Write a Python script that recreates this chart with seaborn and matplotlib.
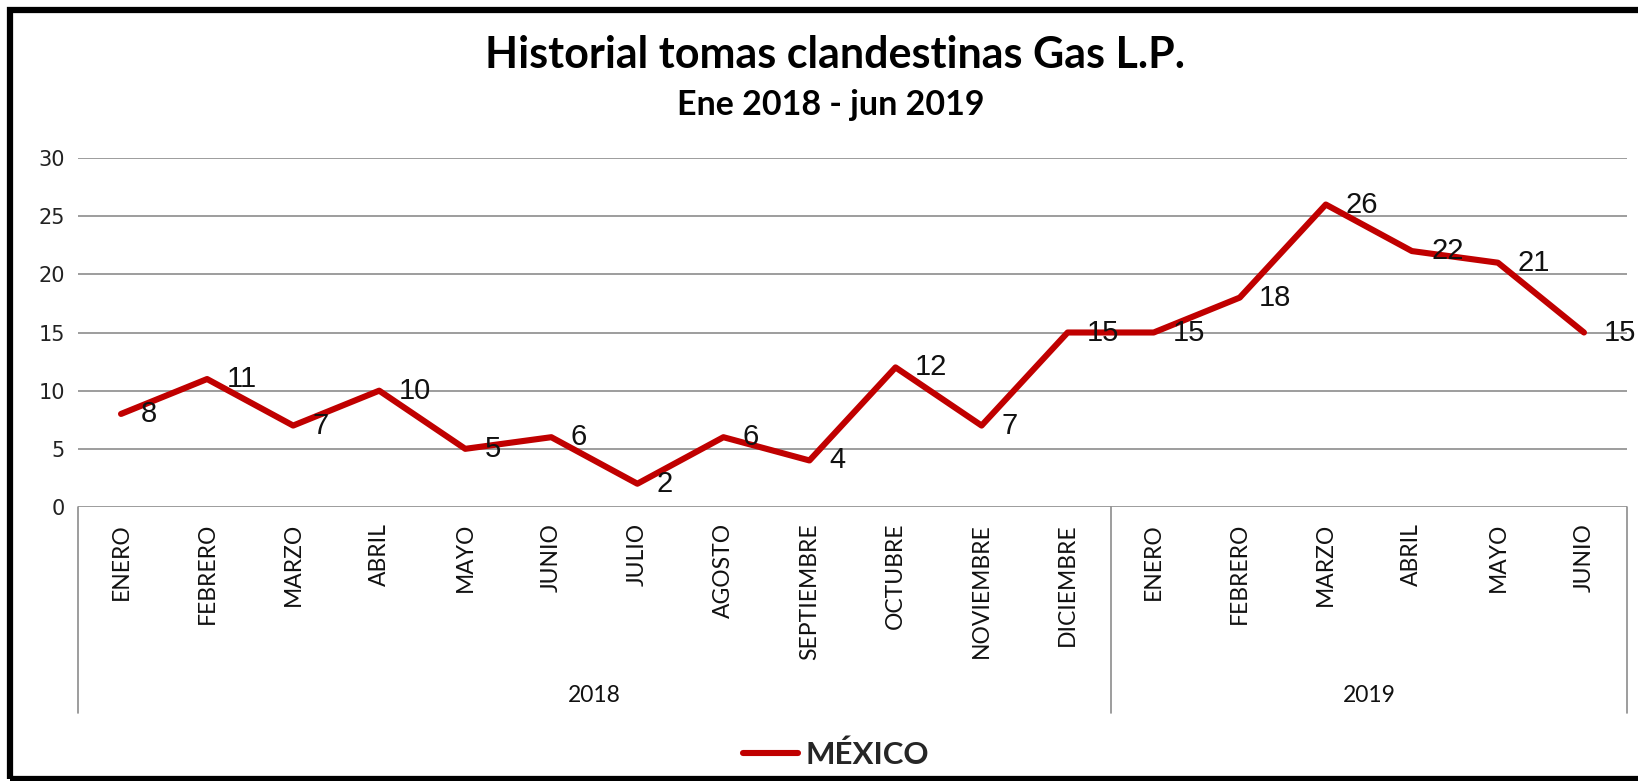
import numpy as np
import pandas as pd
import matplotlib
matplotlib.use("Agg")
import matplotlib.pyplot as plt
import matplotlib.transforms as mtransforms
from matplotlib.patches import Rectangle
from matplotlib.lines import Line2D
import seaborn as sns

# ---- data ----
months = ["ENERO", "FEBRERO", "MARZO", "ABRIL", "MAYO", "JUNIO", "JULIO", "AGOSTO",
          "SEPTIEMBRE", "OCTUBRE", "NOVIEMBRE", "DICIEMBRE",
          "ENERO", "FEBRERO", "MARZO", "ABRIL", "MAYO", "JUNIO"]
values = [8, 11, 7, 10, 5, 6, 2, 6, 4, 12, 7, 15, 15, 18, 26, 22, 21, 15]
years = ["2018", "2019"]
year_counts = [12, 6]
series_name = "MÉXICO"
title = "Historial tomas clandestinas Gas L.P."
subtitle = "Ene 2018 - jun 2019"
y_ticks = [0, 5, 10, 15, 20, 25, 30]

sns.set_theme(style="white")
plt.rcParams["font.family"] = ["Lato", "DejaVu Sans"]

W, H = 1638, 781
fig = plt.figure(figsize=(W / 100, H / 100), dpi=100)
fig.patch.set_facecolor("white")
ax = fig.add_axes([78 / W, 274 / H, 1549 / W, 349 / H])

pos = np.arange(len(values))
df = pd.DataFrame({"pos": pos, "valor": values})
red = "#C00000"
sns.lineplot(data=df, x="pos", y="valor", ax=ax, color=red, linewidth=4.4,
             legend=False, solid_joinstyle="round")

gray = "#8c8c8c"
ax.set_xlim(-0.5, len(values) - 0.5)
ax.set_ylim(y_ticks[0], y_ticks[-1])
ax.set_yticks(y_ticks)
ax.yaxis.grid(True, color=gray, linewidth=1.2)
ax.set_axisbelow(True)
for s in ax.spines.values():
    s.set_visible(False)
ax.set_xlabel("")
ax.set_ylabel("")
ax.tick_params(axis="y", length=0, pad=9.5)
for lab in ax.get_yticklabels():
    lab.set_fontfamily("DejaVu Sans")
    lab.set_fontsize(15)
    lab.set_color("#222222")

ax.set_xticks(pos)
ax.set_xticklabels(months, rotation=90, fontsize=16.5, color="#111111")
ax.tick_params(axis="x", length=0, pad=11.5)

# multi-level category axis
trans = mtransforms.blended_transform_factory(ax.transData, ax.transAxes)
bounds = np.concatenate([[-0.5], np.cumsum(year_counts) - 0.5])
for b in bounds:
    ax.plot([b, b], [0, -0.59], transform=trans, clip_on=False, color=gray, lw=1.2)
for i, yr in enumerate(years):
    c = (bounds[i] + bounds[i + 1]) / 2
    ax.text(c, -0.539, yr, transform=trans, ha="center", va="center",
            fontsize=16.5, color="#111111")

# data labels
for x, v in zip(pos, values):
    ax.annotate(str(v), (x, v), xytext=(14, 0), textcoords="offset points",
                ha="left", va="center", fontsize=21, family="Liberation Sans",
                color="#111111", annotation_clip=False)

# titles
fig.text(0.510, (H - 68) / H, title, ha="center", va="baseline",
         fontsize=31, fontweight="bold", color="black")
fig.text(0.507, (H - 115) / H, subtitle, ha="center", va="baseline",
         fontsize=24.5, fontweight="bold", color="black")

# legend
handle = Line2D([], [], color=red, lw=4.4)
fig.legend([handle], [series_name], loc="center left",
           bbox_to_anchor=(743 / W, (H - 755) / H), frameon=False,
           handlelength=1.75, handletextpad=0.25, borderpad=0, borderaxespad=0,
           prop={"family": "Lato", "weight": "bold", "size": 22.5})

# outer black border
fig.patches.append(Rectangle((9.5 / W, 2 / H), 1.2, 769 / H, transform=fig.transFigure,
                             fill=False, edgecolor="black", lw=4.5))

fig.savefig("out.png", dpi=100)
